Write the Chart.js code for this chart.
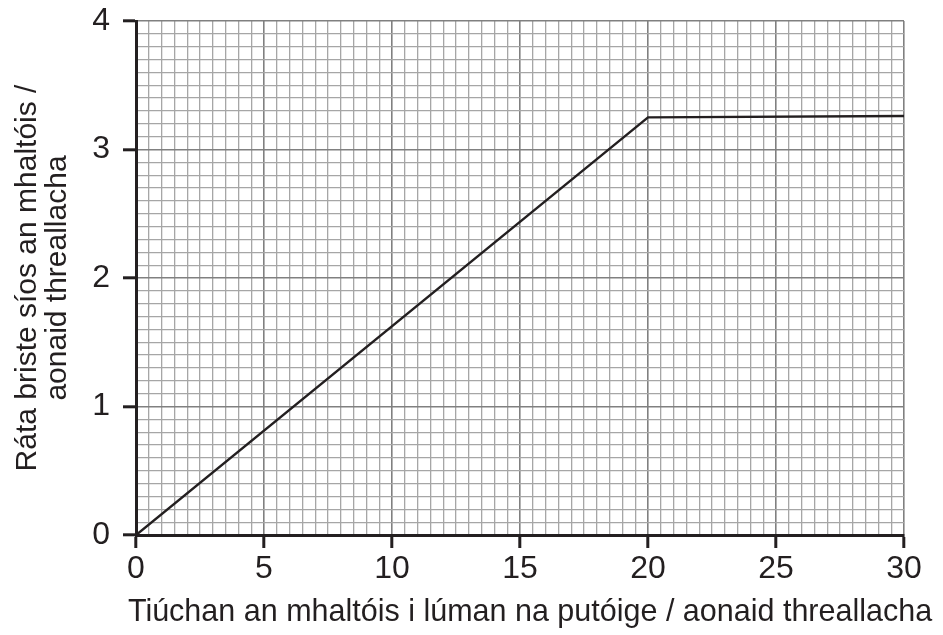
<!DOCTYPE html>
<html>
<head>
<meta charset="utf-8">
<script src="https://cdn.jsdelivr.net/npm/chart.js@4"></script>
<style>
  html, body { margin: 0; padding: 0; background: #fff; }
  #wrap { width: 943px; height: 635px; }
</style>
</head>
<body>
<div id="wrap"><canvas id="chartOne" width="943" height="635"></canvas></div>
<script>
// datos
const concentracion = [0, 20, 30];
const tasa = [0, 3.25, 3.26];
const xTicks = [0, 5, 10, 15, 20, 25, 30];
const yTicks = [0, 1, 2, 3, 4];

const xTitle = 'Tiúchan an mhaltóis i lúman na putóige / aonaid threallacha';
const yTitle = ['Ráta briste síos an mhaltóis /', 'aonaid threallacha'];

const ink = '#231f20';
const fontFam = '"Liberation Sans", Arial, sans-serif';

function isMajor(v, step) {
    return Math.abs(v / step - Math.round(v / step)) < 1e-6;
}

// el título del eje x es más ancho que el área del gráfico, así que se dibuja aparte
const xTitlePlugin = {
    id: 'xTitlePlugin',
    afterDraw(chart) {
        const ctx = chart.ctx;
        const xs = chart.scales.x;
        ctx.save();
        ctx.font = '30.5px ' + fontFam;
        ctx.fillStyle = ink;
        ctx.textAlign = 'center';
        ctx.textBaseline = 'middle';
        ctx.fillText(xTitle, (xs.left + xs.right) / 2 + 10, xs.bottom - 22);
        ctx.restore();
    }
};

var ctxOne = document.getElementById('chartOne').getContext('2d');
var chartOne = new Chart(ctxOne, {
    type: 'line',
    data: {
        datasets: [{
            data: concentracion.map((x, i) => ({ x: x, y: tasa[i] })),
            borderColor: ink,
            borderWidth: 2.5,
            pointRadius: 0,
            fill: false,
            tension: 0
        }]
    },
    plugins: [xTitlePlugin],
    options: {
        responsive: false,
        animation: false,
        layout: { padding: { top: 21, right: 39, left: 0, bottom: 0 } },
        plugins: {
            legend: { display: false },
            tooltip: { enabled: false }
        },
        scales: {
            x: {
                type: 'linear',
                min: 0,
                max: 30,
                afterBuildTicks: (scale) => {
                    const t = [];
                    for (let i = 0; i <= 60; i++) t.push({ value: i * 0.5 });
                    scale.ticks = t;
                },
                afterFit: (scale) => {
                    scale.height = 100;
                    scale.paddingLeft = 0;
                    scale.paddingRight = 0;
                },
                ticks: {
                    autoSkip: false,
                    maxRotation: 0,
                    color: ink,
                    padding: 2,
                    font: { family: fontFam, size: 32 },
                    callback: (v) => xTicks.includes(v) ? String(v) : ''
                },
                grid: {
                    color: (c) => isMajor(c.tick.value, 5) ? '#808080' : '#a6a6a6',
                    lineWidth: (c) => isMajor(c.tick.value, 5) ? 1.6 : 1.3,
                    tickLength: 13,
                    tickWidth: 3,
                    tickColor: (c) => (c.tick && isMajor(c.tick.value, 5)) ? ink : 'rgba(0,0,0,0)'
                },
                border: { display: true, color: ink, width: 3 },
                title: { display: false }
            },
            y: {
                type: 'linear',
                min: 0,
                max: 4,
                afterBuildTicks: (scale) => {
                    const t = [];
                    for (let i = 0; i <= 40; i++) t.push({ value: Math.round(i) / 10 });
                    scale.ticks = t;
                },
                afterFit: (scale) => {
                    scale.width = 136;
                    scale.paddingTop = 0;
                    scale.paddingBottom = 0;
                },
                ticks: {
                    autoSkip: false,
                    color: ink,
                    padding: 13,
                    font: { family: fontFam, size: 32 },
                    callback: (v) => yTicks.includes(v) ? String(v) : ''
                },
                grid: {
                    color: (c) => isMajor(c.tick.value, 1) ? '#808080' : '#a6a6a6',
                    lineWidth: (c) => isMajor(c.tick.value, 1) ? 1.6 : 1.3,
                    tickLength: 13,
                    tickWidth: 3,
                    tickColor: (c) => (c.tick && isMajor(c.tick.value, 1)) ? ink : 'rgba(0,0,0,0)'
                },
                border: { display: true, color: ink, width: 3 },
                title: {
                    display: true,
                    text: yTitle,
                    color: ink,
                    font: { family: fontFam, size: 30, lineHeight: 1.0 },
                    padding: { top: 13, bottom: 0 }
                }
            }
        }
    }
});
</script>
</body>
</html>
